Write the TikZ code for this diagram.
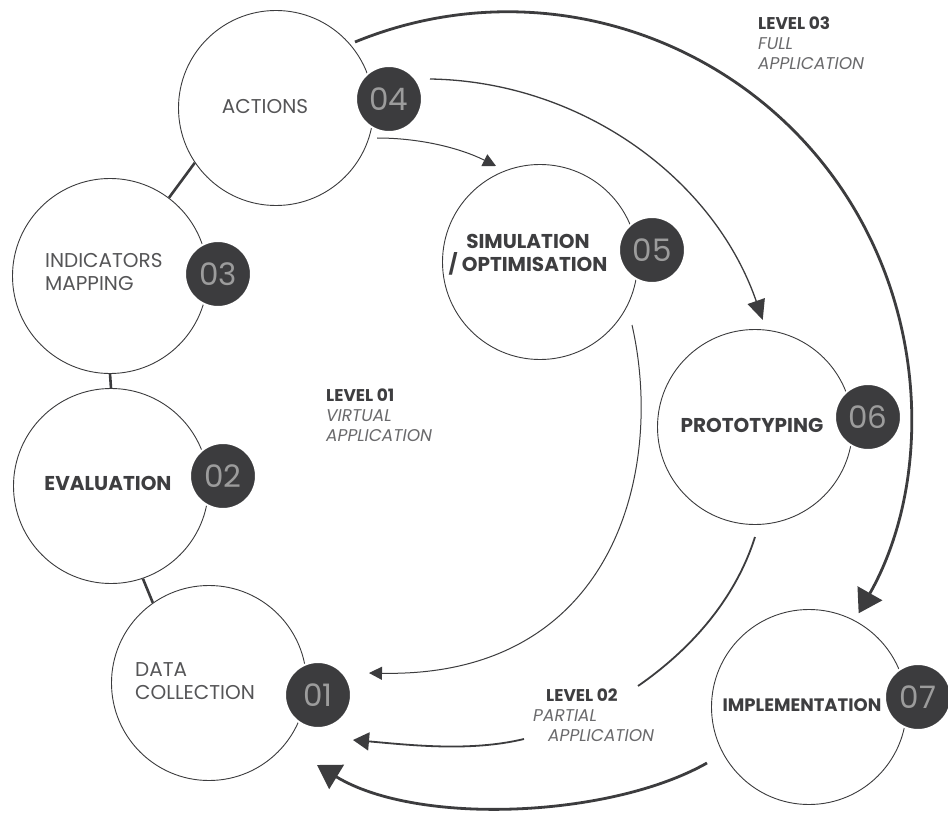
\documentclass[tikz,border=0pt]{standalone}
\usepackage{fontspec}
\setmainfont{Poppins}
\usetikzlibrary{arrows.meta}
\definecolor{ink}{HTML}{3C3C3E}
\definecolor{digit}{HTML}{9C9C9C}
\definecolor{txt}{HTML}{3E3E40}
\definecolor{lighttxt}{HTML}{555557}
\definecolor{ittxt}{HTML}{6A6A6C}
\begin{document}
\begin{tikzpicture}[x=1pt,y=-1pt,
  stage/.style={circle, draw=ink, line width=0.9pt, minimum size=195pt, inner sep=0pt},
  badge/.style={circle, fill=ink, draw=white, line width=2pt, minimum size=66pt, inner sep=0pt, text=digit, font=\fontsize{31}{31}\selectfont},
  reg/.style={text=lighttxt, font=\fontsize{20}{23}\selectfont, align=left, inner sep=0pt},
  bld/.style={text=txt, font=\bfseries\fontsize{20}{23}\selectfont, align=center, inner sep=0pt},
  lvl/.style={anchor=north west, align=left, inner sep=0pt, font=\fontsize{17}{20}\selectfont},
  link/.style={draw=ink, line width=2.6pt},
  thinflow/.style={draw=ink, line width=1pt, -{Triangle[length=13pt,width=13pt]}},
  midflow/.style={draw=ink, line width=1.3pt, -{Triangle[length=20pt,width=18pt]}},
  partflow/.style={draw=ink, line width=1.8pt, -{Triangle[length=16pt,width=18pt]}},
  fullflow/.style={draw=ink, line width=2.8pt, -{Triangle[length=23pt,width=28pt]}},
  partline/.style={draw=ink, line width=1.8pt},
  fullline/.style={draw=ink, line width=2.8pt}
]
\fill[white] (0,0) rectangle (948,813);
\useasboundingbox (0,0) rectangle (948,813);

% stage circles
\node[stage] (c4) at (276,108) {};
\node[stage] (c3) at (110,276) {};
\node[stage] (c2) at (111,486) {};
\node[stage] (c1) at (209,683) {};
\node[stage] (c5) at (540,262) {};
\node[stage] (c6) at (755,427) {};
\node[stage] (c7) at (809,707) {};

% links between left stages
\draw[link] (c4.214) -- (c3.53);
\draw[link] (c3.south) -- (c2.north);
\draw[link] (c2.289) -- (c1.125);

% badges
\node[badge] (b4) at (389,99) {04};
\node[badge] (b3) at (218,274) {03};
\node[badge] (b2) at (223,476) {02};
\node[badge] (b1) at (318,695) {01};
\node[badge] (b5) at (652,250) {05};
\node[badge] (b6) at (868,417) {06};
\node[badge] (b7) at (918,697) {07};

% stage texts
\node[reg] (t4) at (265,107) {ACTIONS};
\node[reg, anchor=west] (t3) at (45,272) {INDICATORS\\MAPPING};
\node[bld] (t2) at (108,483) {EVALUATION};
\node[reg, anchor=west] (t1) at (135,681) {DATA\\COLLECTION};
\node[bld] (t5) at (528,255) {SIMULATION\\/ OPTIMISATION};
\node[bld] (t6) at (752,425) {PROTOTYPING};
\node[bld, font=\bfseries\fontsize{18}{21}\selectfont] (t7) at (802,705) {IMPLEMENTATION};

% flow coordinates
\coordinate (s45) at (377,138);
\coordinate (e45) at (496,166);
\coordinate (s46) at (430,79);
\coordinate (s37) at (355,42);
\coordinate (s51) at (632,325);
\coordinate (e51) at (369,673);
\coordinate (s62) at (755,537);
\coordinate (m62) at (638,686);
\coordinate (n62) at (524,739);
\coordinate (e62) at (353,740);
\coordinate (s71) at (707,763);
\coordinate (e71) at (317,765);

% flows
\draw[thinflow] (s45) .. controls (420,138) and (460,148) .. (e45);
\draw[midflow] (s46) arc[start angle=-89.1, end angle=-19.07, radius=358];
\draw[fullflow] (s37) arc[start angle=-112.3, end angle=29.5, radius=403];
\draw[thinflow] (s51) .. controls (665,470) and (615,678) .. (e51);
\draw[partline] (s62) .. controls (735,600) and (690,650) .. (m62);
\draw[partflow] (n62) .. controls (470,752) and (410,745) .. (e62);
\draw[fullflow] (s71) .. controls (610,818) and (417,826) .. (e71);

% level labels
\node[lvl] (l3) at (758,17) {\textcolor{txt}{\bfseries LEVEL 03}\\\textcolor{ittxt}{\itshape FULL}\\\textcolor{ittxt}{\itshape APPLICATION}};
\node[lvl] (l1) at (326,389) {\textcolor{txt}{\bfseries LEVEL 01}\\\textcolor{ittxt}{\itshape VIRTUAL}\\\textcolor{ittxt}{\itshape APPLICATION}};
\node[lvl] (l2) at (533,689) {\hspace*{13pt}\textcolor{txt}{\bfseries LEVEL 02}\\\textcolor{ittxt}{\itshape PARTIAL}\\\hspace*{15pt}\textcolor{ittxt}{\itshape APPLICATION}};
\end{tikzpicture}
\end{document}
